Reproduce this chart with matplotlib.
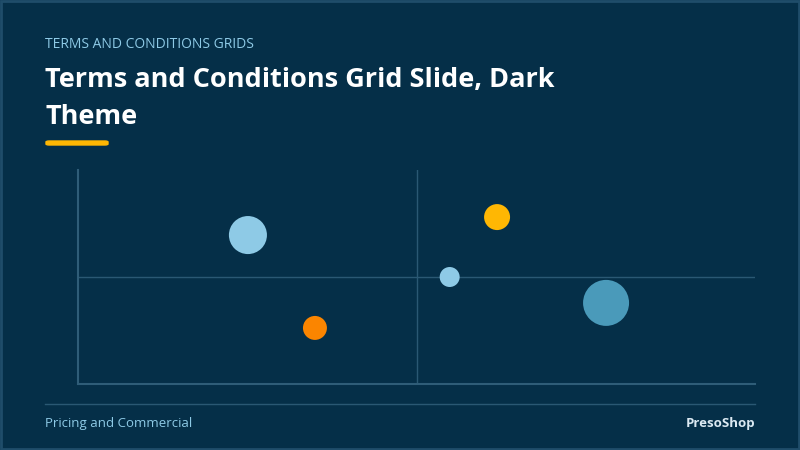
import matplotlib
matplotlib.use("Agg")
import matplotlib.pyplot as plt
from matplotlib.patches import FancyBboxPatch, Rectangle

x_vals = [25.1, 35.0, 61.9, 54.9, 78.0]
y_vals = [69.6, 26.2, 78.0, 50.0, 37.9]
sizes = [750, 298, 350, 207, 1097]
colors = ["#8ecae6", "#fb8500", "#ffb703", "#8ecae6", "#4a9aba"]

BG = "#052f48"
F = "Open Sans"
fig = plt.figure(figsize=(8, 4.5), dpi=100, facecolor=BG)
fig.patches.append(Rectangle((0.001, 0.002), 0.998, 0.996, transform=fig.transFigure,
                             fill=False, edgecolor="#1f4d6a", linewidth=2))
fig.text(45/800, 1-45/450, "TERMS AND CONDITIONS GRIDS", color="#8ecae6", fontsize=10,
         family=F, va="center")
fig.text(45/800, 1-80/450, "Terms and Conditions Grid Slide, Dark", color="white", fontsize=19.5,
         family=F, weight="bold", va="center")
fig.text(45/800, 1-117/450, "Theme", color="white", fontsize=19.5,
         family=F, weight="bold", va="center")
fig.patches.append(FancyBboxPatch((46/800, 1-145/450), 62/800, 4/450, transform=fig.transFigure,
                   boxstyle="round,pad=0,rounding_size=0.004", color="#ffb703", mutation_aspect=450/800))

ax = fig.add_axes([78/800, 1-384/450, 677/800, 214/450])
ax.set_facecolor(BG)
ax.set_xlim(0, 100); ax.set_ylim(0, 100)
for s in ["top", "right"]:
    ax.spines[s].set_visible(False)
for s in ["left", "bottom"]:
    ax.spines[s].set_color("#2f5d78"); ax.spines[s].set_linewidth(1.5)
ax.axvline(50, color="#2a5873", lw=1)
ax.axhline(50, color="#2a5873", lw=1)
ax.set_xticks([]); ax.set_yticks([])
ax.scatter(x_vals, y_vals, s=sizes, c=colors, edgecolors="none", zorder=3)

fig.add_artist(plt.Line2D([45/800, 755/800], [1-404/450]*2, transform=fig.transFigure,
                          color="#2a5873", lw=1))
fig.text(45/800, 1-424/450, "Pricing and Commercial", color="#8ecae6", fontsize=9.5,
         family=F, va="center")
fig.text(755/800, 1-424/450, "PresoShop", color="#dbe9f2", fontsize=9.5, weight="bold",
         family=F, va="center", ha="right")
fig.savefig("out.png", dpi=100, facecolor=BG)
